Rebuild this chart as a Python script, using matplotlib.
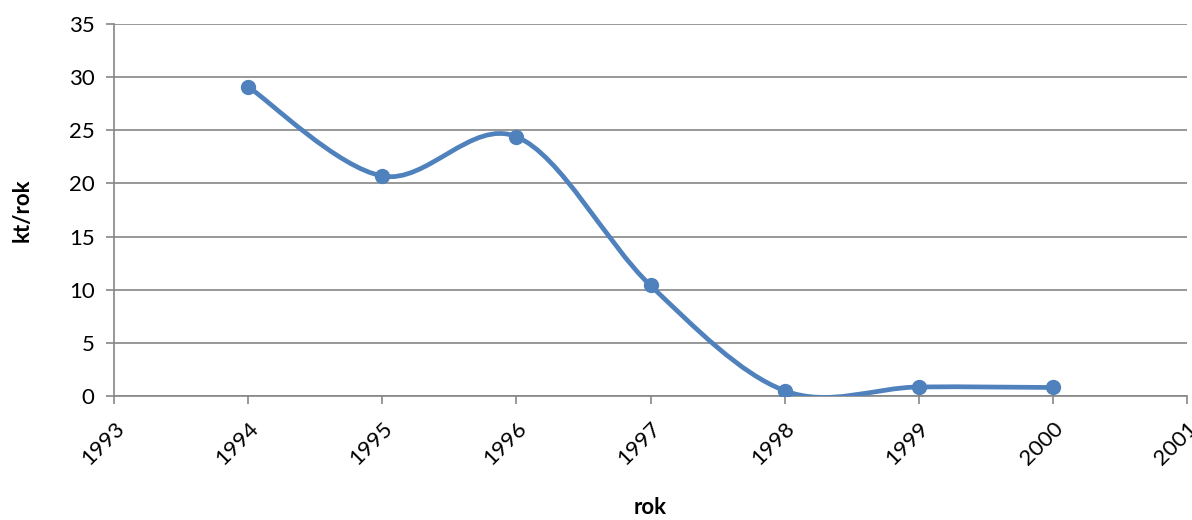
import numpy as np
import matplotlib
matplotlib.use("Agg")
import matplotlib.pyplot as plt
from matplotlib.path import Path
from matplotlib.patches import PathPatch

years = [1994, 1995, 1996, 1997, 1998, 1999, 2000]
values = [29.1, 20.7, 24.4, 10.4, 0.5, 0.85, 0.8]
x_ticks = list(range(1993, 2002))
y_ticks = list(range(0, 36, 5))

plt.rcParams['font.family'] = ['Lato', 'DejaVu Sans']

line_color = '#4F81BD'
axis_color = '#868686'

fig = plt.figure(figsize=(11.92, 5.2), dpi=100)
ax = fig.add_axes([114 / 1192, 1 - 396 / 520, (1187 - 114) / 1192, (396 - 24) / 520])


def smooth_path(xs, ys, k=1 / 6):
    """Cubic Bezier path through the points (spreadsheet-style smoothing)."""
    xs = np.asarray(xs, float)
    ys = np.asarray(ys, float)
    n = len(xs)
    verts = [(xs[0], ys[0])]
    codes = [Path.MOVETO]
    for i in range(n - 1):
        p0 = np.array([xs[max(i - 1, 0)], ys[max(i - 1, 0)]])
        p1 = np.array([xs[i], ys[i]])
        p2 = np.array([xs[i + 1], ys[i + 1]])
        p3 = np.array([xs[min(i + 2, n - 1)], ys[min(i + 2, n - 1)]])
        c1 = p1 + (p2 - p0) * k
        c2 = p2 - (p3 - p1) * k
        verts += [tuple(c1), tuple(c2), tuple(p2)]
        codes += [Path.CURVE4] * 3
    return Path(verts, codes)


ax.add_patch(PathPatch(smooth_path(years, values), facecolor='none',
                       edgecolor=line_color, lw=3.4, capstyle='round',
                       joinstyle='round', zorder=3))
ax.plot(years, values, linestyle='none', marker='o', markersize=10,
        color=line_color, zorder=4)

ax.set_xlim(1993, 2001)
ax.set_ylim(0, 35)
ax.set_xticks(x_ticks)
ax.set_yticks(y_ticks)
ax.set_xticklabels([str(v) for v in x_ticks], rotation=45, ha='right',
                   va='top', rotation_mode='anchor', fontsize=16)
ax.set_yticklabels([str(v) for v in y_ticks], fontsize=16)

ax.yaxis.grid(True, color=axis_color, lw=1.2)
ax.set_axisbelow(True)
for side in ['top', 'right']:
    ax.spines[side].set_visible(False)
for side in ['left', 'bottom']:
    ax.spines[side].set_color(axis_color)
    ax.spines[side].set_linewidth(1.2)
ax.tick_params(axis='both', color=axis_color, width=1.2, length=6,
               direction='out', labelcolor='black')
ax.tick_params(axis='x', pad=10)
ax.tick_params(axis='y', pad=8)

ax.set_xlabel('rok', fontsize=16, fontweight='bold', labelpad=20)
ax.set_ylabel('kt/rok', fontsize=16, fontweight='bold', labelpad=26)

fig.savefig('out.png', dpi=100)
